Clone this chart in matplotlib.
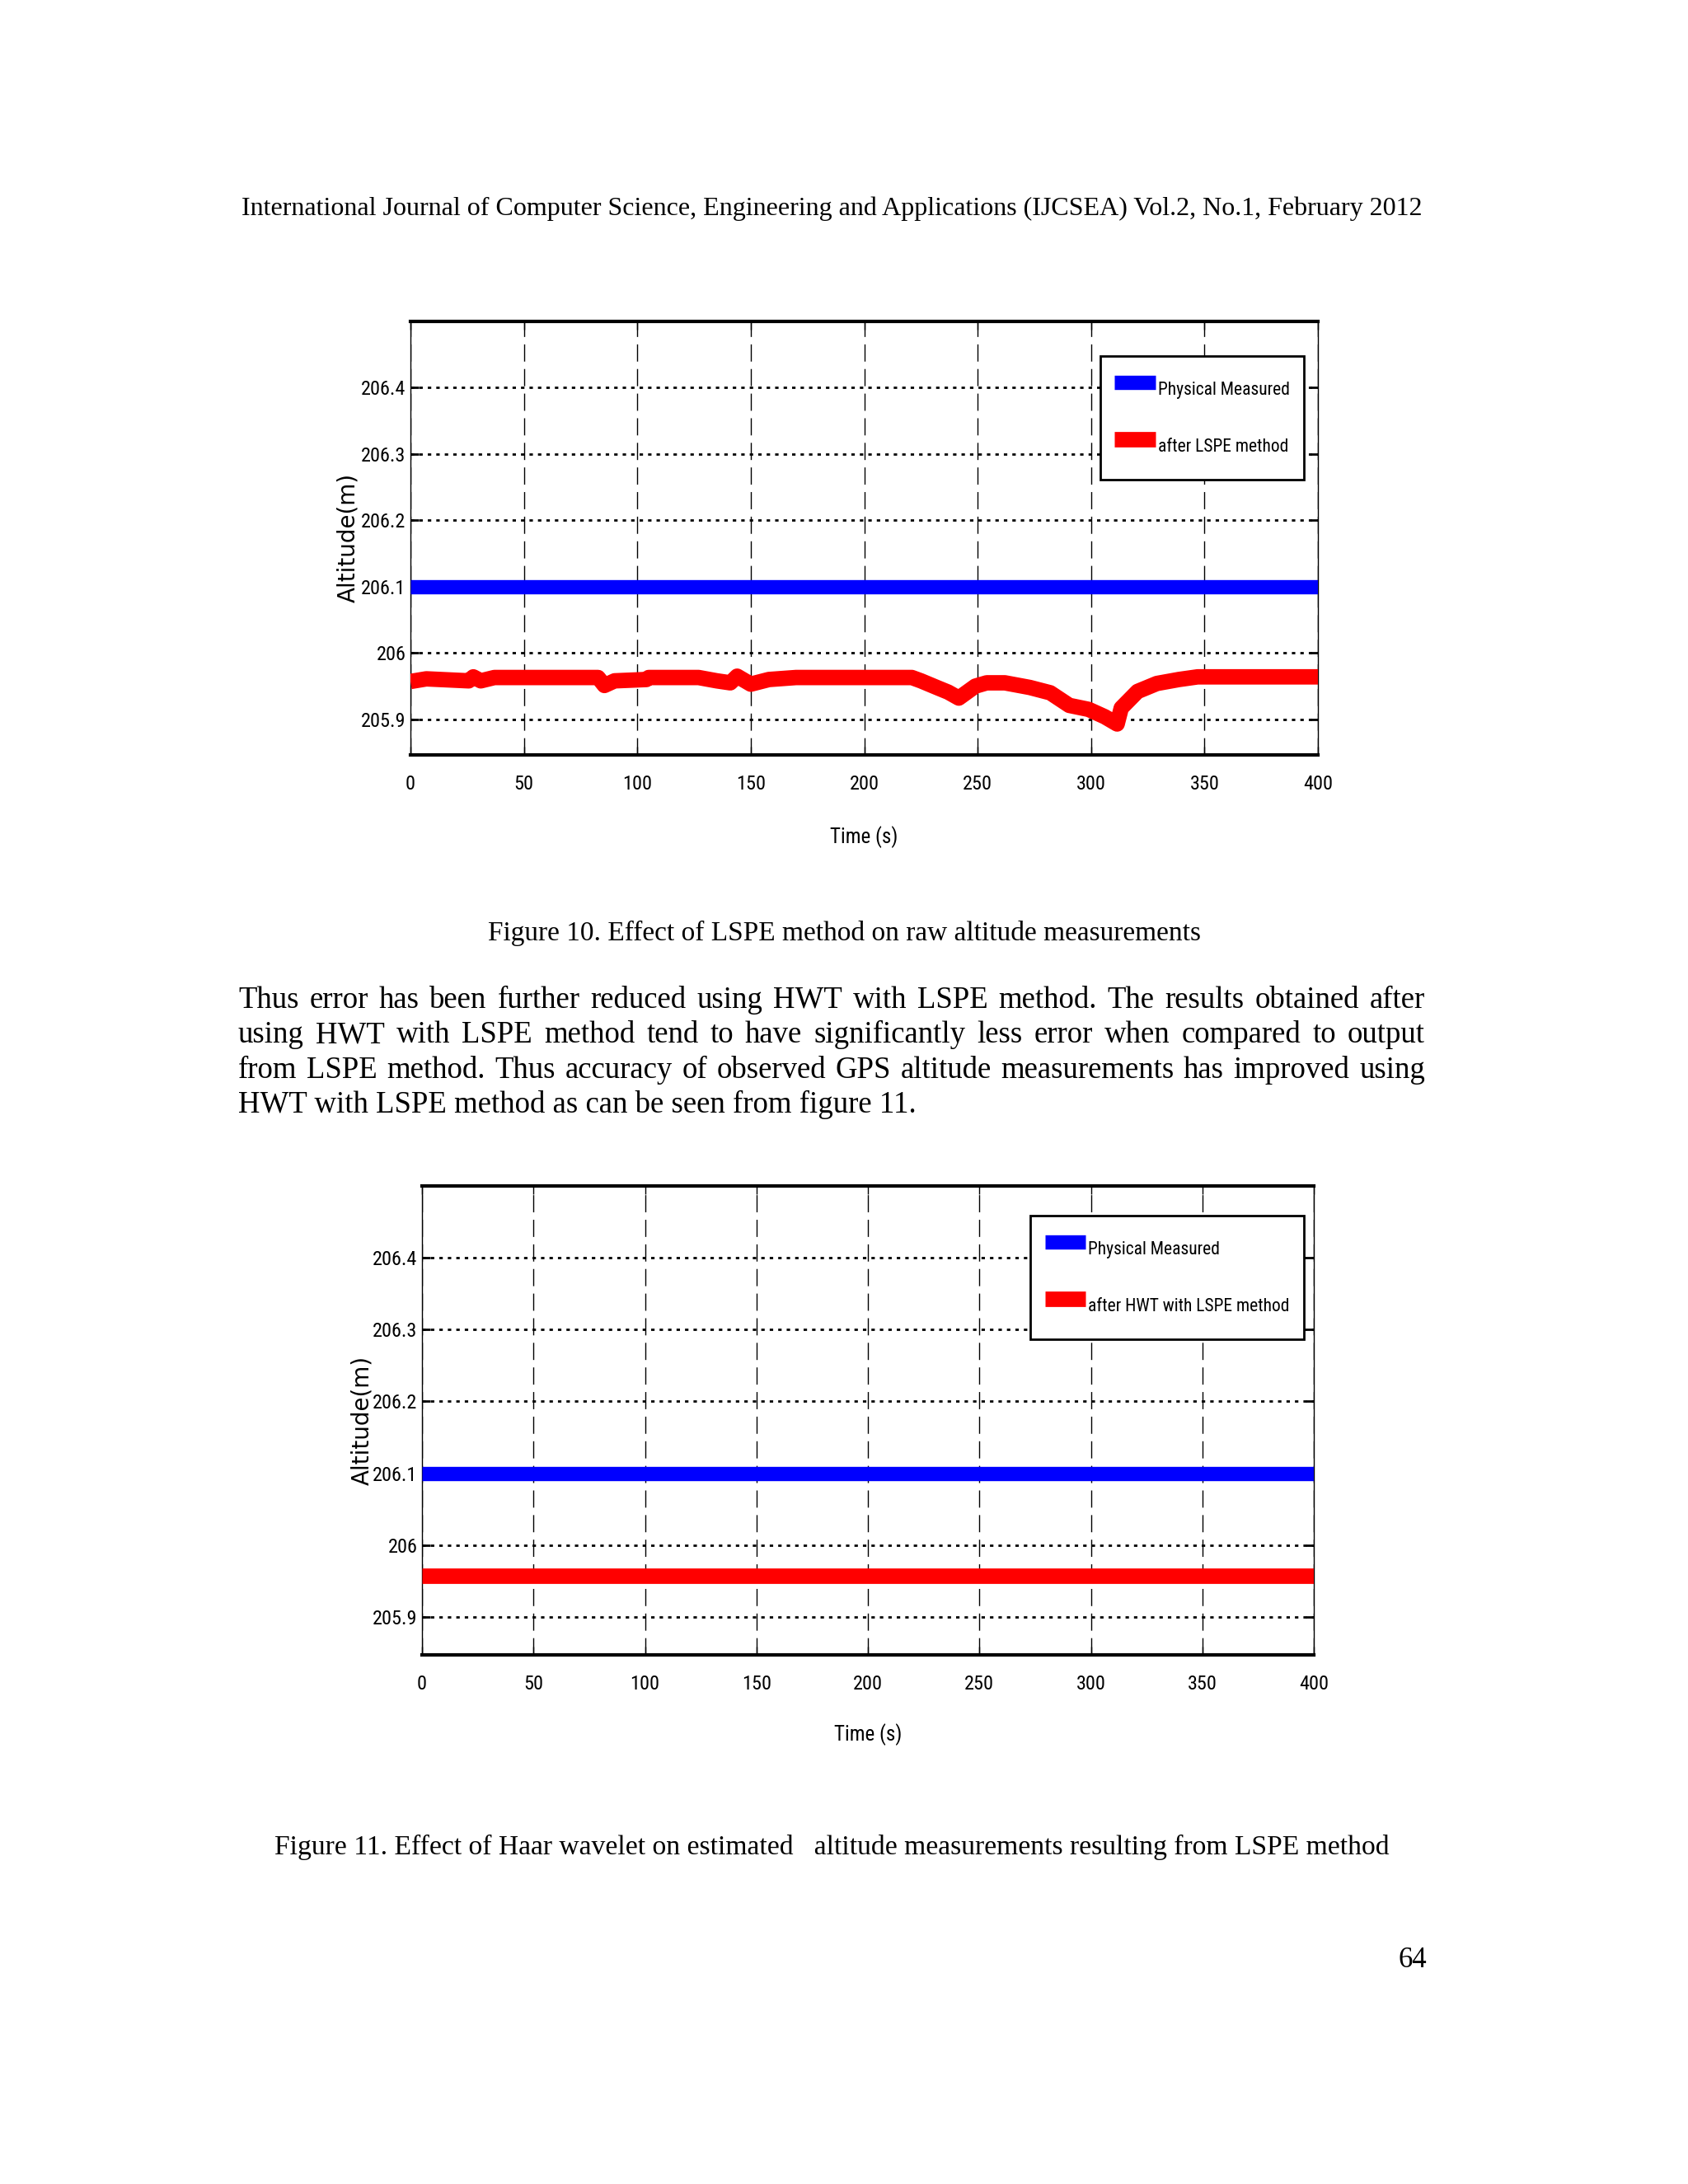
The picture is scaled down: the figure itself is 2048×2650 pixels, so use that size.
import matplotlib
matplotlib.use("Agg")
import matplotlib.pyplot as plt

# Page size in pixels
W, H, DPI = 2048, 2650, 100

SERIF = ["Liberation Serif", "DejaVu Serif"]
NARROW = ["Roboto Condensed", "Roboto", "DejaVu Sans"]

# Page text
header_text = ("International Journal of Computer Science, Engineering and "
               "Applications (IJCSEA) Vol.2, No.1, February 2012")
caption_10 = "Figure 10. Effect of LSPE method on raw altitude measurements"
caption_11 = ("Figure 11. Effect of Haar wavelet on estimated   altitude "
              "measurements resulting from LSPE method")
paragraph_lines = [
    "Thus error has been further reduced using HWT with LSPE method. The results obtained after",
    "using HWT with LSPE method tend to have significantly less error when compared to output",
    "from LSPE method. Thus accuracy of observed GPS altitude measurements has improved using",
    "HWT with LSPE method as can be seen from figure 11.",
]
page_number = "64"

# Shared axis setup
time_ticks = [0, 50, 100, 150, 200, 250, 300, 350, 400]
time_tick_labels = ["0", "50", "100", "150", "200", "250", "300", "350", "400"]
alt_ticks = [205.9, 206.0, 206.1, 206.2, 206.3, 206.4]
alt_tick_labels = ["205.9", "206", "206.1", "206.2", "206.3", "206.4"]
x_label = "Time (s)"
y_label = "Altitude(m)"

# Figure 10 data
fig10_time_measured = [0, 400]
fig10_alt_measured = [206.1, 206.1]
fig10_time_lspe = [0, 7, 25.7, 27.7, 31, 37, 82.7, 85.5, 90, 104, 105, 127,
                   135, 141, 144, 150, 158, 170, 221, 225, 232, 237, 241.7,
                   249, 254, 262, 273, 282, 290.4, 298.9, 306, 311.5, 313.3,
                   320.5, 329, 338.7, 347, 400]
fig10_alt_lspe = [205.957, 205.961, 205.958, 205.964, 205.958, 205.963,
                  205.963, 205.951, 205.958, 205.960, 205.963, 205.963,
                  205.958, 205.955, 205.965, 205.953, 205.960, 205.963,
                  205.963, 205.958, 205.948, 205.941, 205.932, 205.950,
                  205.955, 205.955, 205.948, 205.940, 205.921, 205.915,
                  205.904, 205.893, 205.917, 205.942, 205.954, 205.960,
                  205.964, 205.964]
fig10_labels = ["Physical Measured", "after LSPE method"]

# Figure 11 data
fig11_time_measured = [0, 400]
fig11_alt_measured = [206.1, 206.1]
fig11_time_hwt = [0, 400]
fig11_alt_hwt = [205.957, 205.957]
fig11_labels = ["Physical Measured", "after HWT with LSPE method"]


def px_rect(left, top, right, bottom):
    return [left / W, 1 - bottom / H, (right - left) / W, (bottom - top) / H]


def draw_panel(fig, rect, t_meas, a_meas, t_est, a_est, labels,
               legend_anchor, ylabel_x, xpad, xlabelpad):
    ax = fig.add_axes(rect)
    ax.plot(t_meas, a_meas, color="#0000ff", lw=12.5, solid_capstyle="butt",
            label=labels[0], zorder=3)
    ax.plot(t_est, a_est, color="#ff0000", lw=13.5, solid_capstyle="butt",
            label=labels[1], zorder=3)
    ax.set_xlim(0, 400)
    ax.set_ylim(205.847, 206.5)
    ax.set_xticks(time_ticks)
    ax.set_xticklabels(time_tick_labels)
    ax.set_yticks(alt_ticks)
    ax.set_yticklabels(alt_tick_labels)
    ax.set_axisbelow(True)
    ax.grid(axis="x", color="k", lw=1.0, linestyle=(0, (15, 6.5)))
    ax.grid(axis="y", color="k", lw=2.0, linestyle=(0, (1.5, 2.2)))
    ax.tick_params(axis="both", direction="in", top=True, right=True,
                   length=7, labelsize=17.5)
    ax.tick_params(axis="x", width=1, pad=xpad)
    ax.tick_params(axis="y", width=2, pad=4)
    for lab in ax.get_xticklabels() + ax.get_yticklabels():
        lab.set_family(NARROW)
    for side in ["top", "bottom"]:
        ax.spines[side].set_linewidth(3)
    for side in ["left", "right"]:
        ax.spines[side].set_linewidth(1)
    ax.set_xlabel(x_label, family=NARROW, fontsize=18, labelpad=xlabelpad)
    ax.set_ylabel(y_label, family="DejaVu Sans", fontsize=20)
    ax.yaxis.set_label_coords(ylabel_x, 0.5)
    leg = ax.legend(loc="upper right", bbox_to_anchor=legend_anchor,
                    borderaxespad=0, fancybox=False, edgecolor="k",
                    prop={"family": NARROW, "size": 15.5}, handlelength=2.3,
                    handletextpad=0.15, handleheight=3.0, labelspacing=1.0,
                    borderpad=0.8, framealpha=1)
    leg.get_frame().set_linewidth(2)
    return ax


def justify(fig, renderer, line, x0, x1, y, size):
    words = line.split()
    texts = [fig.text(0, 1 - y / H, w, fontsize=size, family=SERIF,
                      va="baseline") for w in words]
    widths = [t.get_window_extent(renderer).width for t in texts]
    gap = (x1 - x0 - sum(widths)) / (len(words) - 1)
    x = x0
    for t, w in zip(texts, widths):
        t.set_x(x / W)
        x += w + gap


fig = plt.figure(figsize=(W / DPI, H / DPI), dpi=DPI)
fig.patch.set_facecolor("white")

draw_panel(fig, px_rect(498, 389.6, 1599, 915.5),
           fig10_time_measured, fig10_alt_measured,
           fig10_time_lspe, fig10_alt_lspe, fig10_labels,
           (0.9846, 0.9195), -0.056, 18, 28)
draw_panel(fig, px_rect(512, 1439, 1594, 2008),
           fig11_time_measured, fig11_alt_measured,
           fig11_time_hwt, fig11_alt_hwt, fig11_labels,
           (0.989, 0.9367), -0.054, 17, 26)

renderer = fig.canvas.get_renderer()

fig.text(1009 / W, 1 - 261 / H, header_text, fontsize=23, family=SERIF,
         ha="center", va="baseline")
fig.text(1025 / W, 1 - 1141 / H, caption_10, fontsize=24, family=SERIF,
         ha="center", va="baseline")
fig.text(1009 / W, 1 - 2250 / H, caption_11, fontsize=24.2, family=SERIF,
         ha="center", va="baseline")
fig.text(1731 / W, 1 - 2387 / H, page_number, fontsize=25, family=SERIF,
         ha="right", va="baseline")

baselines = [1223, 1265, 1308, 1350]
for i, line in enumerate(paragraph_lines):
    if i < len(paragraph_lines) - 1:
        justify(fig, renderer, line, 289, 1729, baselines[i], 26.5)
    else:
        fig.text(289 / W, 1 - baselines[i] / H, line, fontsize=26.5,
                 family=SERIF, va="baseline")

fig.savefig("out.png", dpi=DPI)
